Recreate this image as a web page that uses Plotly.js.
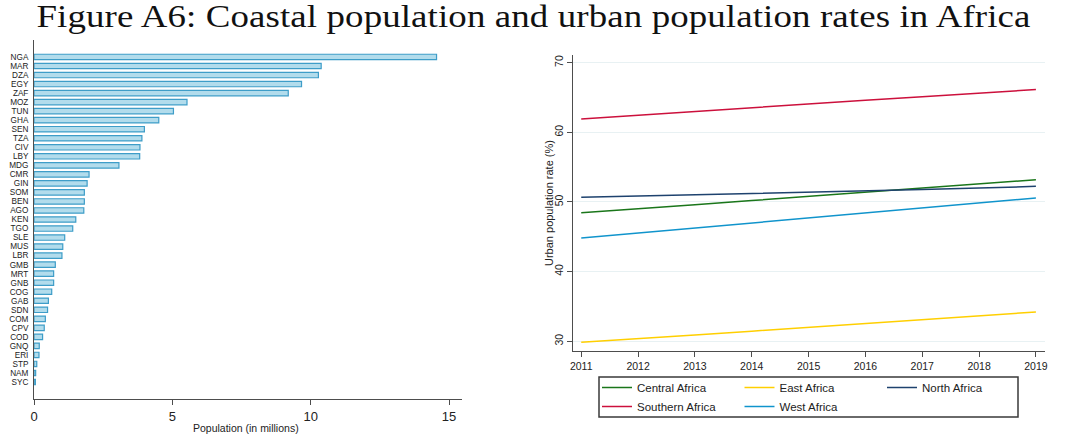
<!DOCTYPE html>
<html>
<head>
<meta charset="utf-8">
<script src="https://cdn.plot.ly/plotly-3.0.1.min.js"></script>
<style>
html,body{margin:0;padding:0;background:#fff;}
#chart{width:1067px;height:438px;}
.gtitle{transform-box:fill-box;transform-origin:center;transform:scaleX(1.19);letter-spacing:0.1px;}
</style>
</head>
<body>
<div id="chart"></div>
<script>
// Left panel: coastal population (millions), top to bottom
var countries = ["NGA","MAR","DZA","EGY","ZAF","MOZ","TUN","GHA","SEN","TZA","CIV","LBY","MDG","CMR","GIN","SOM","BEN","AGO","KEN","TGO","SLE","MUS","LBR","GMB","MRT","GNB","COG","GAB","SDN","COM","CPV","COD","GNQ","ERI","STP","NAM","SYC"];
var coastalPop = [14.55,10.38,10.28,9.67,9.19,5.53,5.04,4.51,3.99,3.90,3.83,3.82,3.07,1.99,1.92,1.82,1.82,1.80,1.51,1.40,1.11,1.04,1.01,0.77,0.71,0.71,0.64,0.52,0.49,0.41,0.37,0.31,0.19,0.18,0.10,0.06,0.05];
var popTicks = [0,5,10,15];

// Right panel: urban population rate (%)
var years = [2011,2012,2013,2014,2015,2016,2017,2018,2019];
var centralAfrica  = [48.46,49.0,49.6,50.2,50.8,51.4,52.0,52.6,53.2];
var eastAfrica     = [29.86,30.35,30.9,31.45,32.0,32.55,33.1,33.65,34.2];
var northAfrica    = [50.66,50.83,51.0,51.17,51.33,51.55,51.78,52.0,52.24];
var southernAfrica = [61.9,62.45,63.0,63.55,64.07,64.6,65.1,65.65,66.15];
var westAfrica     = [44.83,45.55,46.25,46.95,47.65,48.35,49.1,49.85,50.57];
var rateTicks = [30,40,50,60,70];

var W = 1067, H = 438;
function px(x){ return x / W; }
function py(y){ return 1 - y / H; }

var font = "Liberation Sans, Arial, sans-serif";
var axisCol = "#4d4d4d";

var traces = [
  {type:"bar", orientation:"h", x:coastalPop, y:countries, xaxis:"x", yaxis:"y",
   marker:{color:"rgb(178,220,236)", line:{color:"rgb(62,157,200)", width:1.2}},
   showlegend:false, hoverinfo:"x+y"},
  {type:"scatter", mode:"lines", x:years, y:centralAfrica, name:"Central Africa", legendgroup:"a",
   xaxis:"x2", yaxis:"y2", line:{color:"rgb(26,118,26)", width:1.5}},
  {type:"scatter", mode:"lines", x:years, y:eastAfrica, name:"East Africa", legendgroup:"b",
   xaxis:"x2", yaxis:"y2", line:{color:"rgb(255,207,0)", width:1.5}},
  {type:"scatter", mode:"lines", x:years, y:northAfrica, name:"North Africa", legendgroup:"c",
   xaxis:"x2", yaxis:"y2", line:{color:"rgb(30,66,110)", width:1.5}},
  {type:"scatter", mode:"lines", x:years, y:southernAfrica, name:"Southern Africa", legendgroup:"a",
   xaxis:"x2", yaxis:"y2", line:{color:"rgb(204,16,60)", width:1.5}},
  {type:"scatter", mode:"lines", x:years, y:westAfrica, name:"West Africa", legendgroup:"b",
   xaxis:"x2", yaxis:"y2", line:{color:"rgb(16,148,204)", width:1.5}}
];

var n = countries.length;
var layout = {
  width: W, height: H,
  margin:{l:0, r:0, t:0, b:0},
  paper_bgcolor:"#fff", plot_bgcolor:"#fff",
  font:{family:font, color:"#222"},
  title:{text:"Figure A6: Coastal population and urban population rates in Africa",
         font:{family:"Liberation Serif, Times New Roman, serif", size:31, color:"#111"},
         x:0.5, xanchor:"center", y:py(16.5), yanchor:"middle", yref:"container"},
  bargap:0.4,
  xaxis:{domain:[px(34), px(462)], range:[0,15.47], anchor:"y",
         tickmode:"array", tickvals:popTicks, ticktext:popTicks.map(String),
         ticks:"outside", ticklen:5, tickcolor:axisCol, showline:true, linecolor:axisCol, linewidth:1,
         showgrid:false, zeroline:false, tickfont:{size:13, color:"#222"}},
  yaxis:{domain:[py(399), py(40)], type:"category", categoryorder:"array", categoryarray:countries,
         tickmode:"array", tickvals:countries, ticktext:countries,
         range:[n-1+1.88, -1.88], anchor:"x", ticks:"", showline:true, linecolor:axisCol, linewidth:1,
         showgrid:false, zeroline:false, tickfont:{size:8.2, color:"#222"}, ticklabelstandoff:3},
  xaxis2:{domain:[px(572.7), px(1045)], range:[2010.85,2019.16], anchor:"y2",
          tickmode:"array", tickvals:years, ticktext:years.map(String),
          ticks:"outside", ticklen:5, tickcolor:axisCol, showline:true, linecolor:axisCol, linewidth:1,
          showgrid:false, zeroline:false, tickfont:{size:10.5, color:"#222"}},
  yaxis2:{domain:[py(351), py(55)], range:[28.6,71.1], anchor:"x2",
          tickmode:"array", tickvals:rateTicks, ticktext:rateTicks.map(String), tickangle:-90,
          ticks:"outside", ticklen:5, tickcolor:axisCol, showline:true, linecolor:axisCol, linewidth:1,
          showgrid:true, gridcolor:"rgb(232,241,243)", gridwidth:1, zeroline:false,
          tickfont:{size:10.5, color:"#222"}},
  legend:{orientation:"h", traceorder:"grouped", tracegroupgap:0,
          x:px(597), xanchor:"left", y:py(373), yanchor:"top",
          borderwidth:0, bgcolor:"rgba(0,0,0,0)",
          font:{size:11.5, color:"#222"}, entrywidth:97.5, entrywidthmode:"pixels"},
  shapes:[
    {type:"rect", xref:"paper", yref:"paper", x0:px(599), x1:px(1018), y0:py(417), y1:py(377),
     line:{color:"#3a3a3a", width:1.5}, fillcolor:"rgba(0,0,0,0)", layer:"below"}
  ],
  annotations:[
    {text:"Population (in millions)", xref:"paper", yref:"paper", x:px(246), y:py(428),
     xanchor:"center", yanchor:"middle", showarrow:false, font:{size:10.5, color:"#222"}},
    {text:"Urban population rate (%)", xref:"paper", yref:"paper", x:px(549), y:py(203),
     xanchor:"center", yanchor:"middle", textangle:-90, showarrow:false, font:{size:11, color:"#222"}}
  ]
};

Plotly.newPlot("chart", traces, layout, {displayModeBar:false, staticPlot:true});
</script>
</body>
</html>
